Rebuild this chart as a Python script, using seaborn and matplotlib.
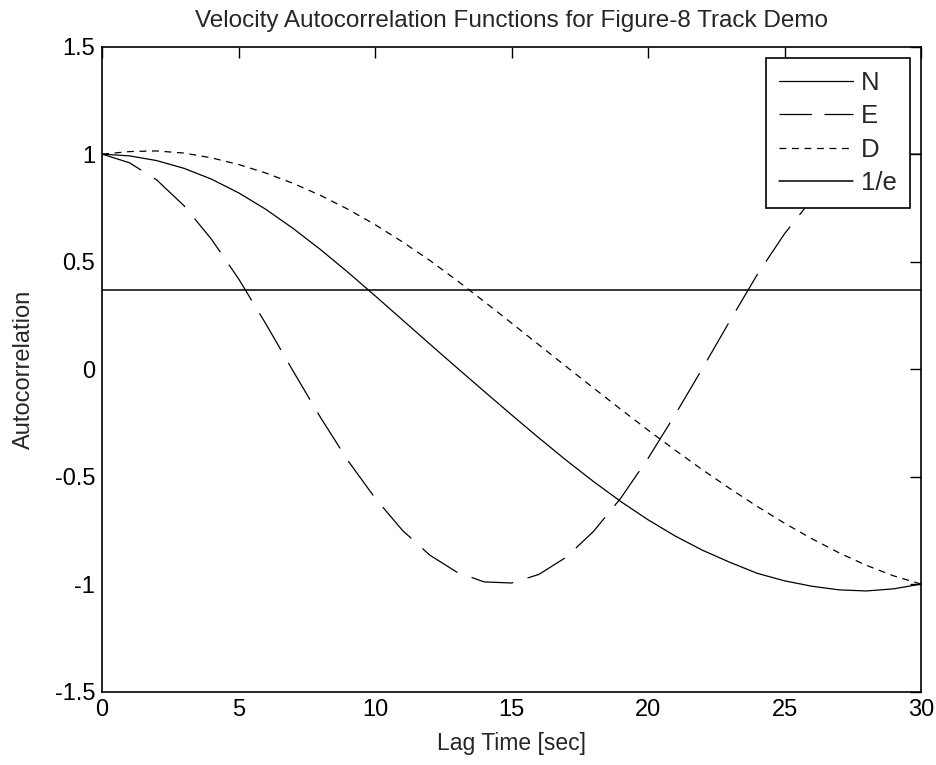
import numpy as np
import matplotlib
matplotlib.use("Agg")
import matplotlib.pyplot as plt
import seaborn as sns
from matplotlib.ticker import FuncFormatter

# Lag times (sec) and autocorrelation values
lag = list(range(0, 31))
north = [1.000, 0.992, 0.970, 0.934, 0.884, 0.820, 0.743, 0.654, 0.556, 0.451,
         0.341, 0.229, 0.117, 0.006, -0.104, -0.213, -0.320, -0.424, -0.523,
         -0.616, -0.701, -0.777, -0.843, -0.899, -0.950, -0.985, -1.010,
         -1.027, -1.032, -1.022, -1.000]
east = [1.000, 0.960, 0.880, 0.760, 0.605, 0.420, 0.210, -0.010, -0.225,
        -0.425, -0.600, -0.750, -0.865, -0.945, -0.990, -0.995, -0.955,
        -0.875, -0.755, -0.600, -0.415, -0.210, 0.005, 0.225, 0.440, 0.630,
        0.790, 0.905, 0.975, 1.000, 1.000]
down = [1.000, 1.012, 1.015, 1.005, 0.983, 0.952, 0.912, 0.864, 0.808, 0.744,
        0.672, 0.592, 0.506, 0.412, 0.314, 0.214, 0.113, 0.012, -0.088,
        -0.187, -0.284, -0.378, -0.469, -0.556, -0.639, -0.717, -0.789,
        -0.855, -0.913, -0.962, -1.000]
inv_e_lag = [0, 30]
inv_e = [np.exp(-1), np.exp(-1)]

sns.set_style("white")
plt.rcParams["font.family"] = ["Liberation Sans", "DejaVu Sans"]
plt.rcParams["axes.unicode_minus"] = False

fig = plt.figure(figsize=(9.37, 7.65), dpi=100)
ax = fig.add_axes([0.109, 0.096, 0.874, 0.843])

sns.lineplot(x=lag, y=north, ax=ax, color="black", lw=0.9, label="N")
sns.lineplot(x=lag, y=east, ax=ax, color="black", lw=0.9, label="E",
             linestyle=(0, (34, 12)))
sns.lineplot(x=lag, y=down, ax=ax, color="black", lw=0.9, label="D",
             linestyle=(0, (5.5, 4.5)))
sns.lineplot(x=inv_e_lag, y=inv_e, ax=ax, color="black", lw=1.1, label="1/e")

ax.set_xlim(0, 30)
ax.set_ylim(-1.5, 1.5)
ax.set_xticks(range(0, 31, 5))
ax.set_yticks(np.arange(-1.5, 1.51, 0.5))
ax.yaxis.set_major_formatter(FuncFormatter(lambda v, p: f"{v:g}"))
ax.tick_params(direction="in", length=8, width=1, top=True, right=True,
               labelsize=17, pad=5, colors="black")
for s in ax.spines.values():
    s.set_visible(True)
    s.set_color("black")
    s.set_linewidth(1.2)

ax.set_title("Velocity Autocorrelation Functions for Figure-8 Track Demo",
             fontsize=17.5, pad=14)
ax.set_xlabel("Lag Time [sec]", fontsize=16.5, labelpad=8)
ax.set_ylabel("Autocorrelation", fontsize=17, labelpad=14)

leg = ax.legend(loc="upper right", fontsize=18.5, frameon=True, fancybox=False,
                edgecolor="black", handlelength=2.9, borderaxespad=0.45,
                labelspacing=0.36, handletextpad=0.3, borderpad=0.5)
leg.get_frame().set_linewidth(1.2)
leg.get_frame().set_alpha(1)
leg.legend_handles[1].set_linestyle((0, (26, 10)))

plt.savefig("out.png", dpi=100)
plt.close()
